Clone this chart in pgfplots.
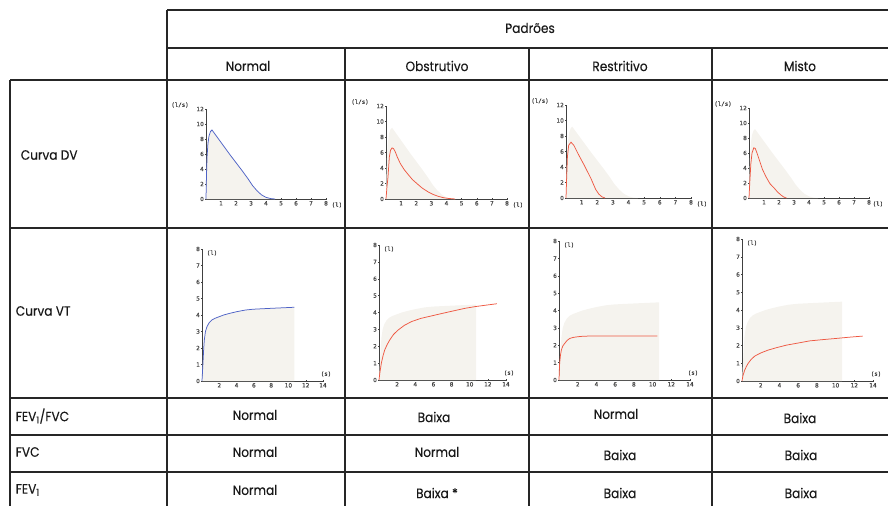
\documentclass[border=0pt]{standalone}
\usepackage{fontspec}
\usepackage{pgfplots}
\usepackage{pgfplotstable}
\pgfplotsset{compat=1.18}
\setmainfont{Poppins}[FakeStretch=0.9, FakeBold=0.25]
\newfontfamily\tickfam{DejaVu Sans}[FakeBold=0.6]
\newfontfamily\lblfam{DejaVu Sans Mono}[FakeBold=0.6]

\definecolor{areabg}{RGB}{245,243,238}
\definecolor{redc}{RGB}{238,88,66}
\definecolor{bluec}{RGB}{78,98,198}

% flow-volume (DV) curves: volume (l), flow (l/s)
\pgfplotstableread{
x y
0 0
0.03 3.0
0.07 5.6
0.13 7.4
0.2 8.4
0.3 9.0
0.4 9.2
0.8 8.1
1.2 7.0
1.6 5.9
2.0 4.85
2.4 3.8
2.8 2.7
3.1 1.8
3.4 1.1
3.7 0.55
4.0 0.22
4.3 0.06
4.6 0
}\dvnormal
\pgfplotstableread{
x y
0 0
0.06 1.5
0.13 2.8
0.22 5.4
0.3 6.3
0.4 6.6
0.5 6.5
0.61 6.1
0.75 5.4
0.94 4.6
1.2 3.8
1.49 3.1
1.75 2.5
2.04 2.0
2.4 1.4
2.8 0.9
3.1 0.6
3.46 0.34
3.8 0.17
4.1 0.08
4.56 0
}\dvobstr
\pgfplotstableread{
x y
0 0
0.04 2.5
0.09 5.3
0.17 6.8
0.32 7.2
0.5 6.8
0.8 5.6
1.2 4.1
1.6 2.5
1.9 1.1
2.1 0.5
2.3 0.15
2.5 0
}\dvrestr
\pgfplotstableread{
x y
0 0
0.05 2.0
0.12 4.5
0.2 6.0
0.32 6.7
0.42 6.6
0.55 5.9
0.7 5.0
0.9 3.8
1.14 2.8
1.4 1.9
1.69 1.3
1.9 0.8
2.13 0.4
2.3 0.15
2.45 0.03
2.5 0
}\dvmisto

% volume-time (VT) curves: time (s), volume (l)
\pgfplotstableread{
x y
0 0
0.05 0.5
0.11 1.07
0.2 2.0
0.27 2.5
0.4 3.0
0.58 3.3
0.85 3.55
1.15 3.7
1.5 3.8
1.9 3.88
2.5 4.0
3.2 4.1
4.0 4.2
5.0 4.3
5.9 4.35
7.0 4.38
8.6 4.42
10.7 4.47
}\vtnormal
\pgfplotstableread{
x y
0 0
0.1 0.45
0.26 1.0
0.45 1.45
0.63 1.78
0.9 2.1
1.18 2.37
1.6 2.7
2.1 2.96
2.8 3.24
3.58 3.46
4.6 3.65
5.8 3.8
7.0 3.95
8.4 4.12
9.5 4.25
10.6 4.35
12.0 4.45
13.0 4.52
}\vtobstr
\pgfplotstableread{
x y
0 0
0.03 0.5
0.07 0.96
0.15 1.4
0.25 1.72
0.4 1.95
0.6 2.1
0.85 2.27
1.14 2.39
1.5 2.45
2.0 2.49
2.6 2.52
3.3 2.53
10.5 2.53
}\vtrestr
\pgfplotstableread{
x y
0 0
0.1 0.3
0.28 0.6
0.45 0.8
0.64 0.98
0.95 1.2
1.35 1.4
2.0 1.58
2.78 1.74
3.7 1.88
4.74 2.02
6.0 2.14
7.23 2.26
8.6 2.33
10.1 2.4
11.5 2.47
12.9 2.53
}\vtmisto

\tikzset{lbl/.style={font=\lblfam\fontsize{5.8}{6}\selectfont, text=black!75}}
\pgfplotsset{
  mini/.style={scale only axis, anchor=south west, clip=false,
    axis lines=left, axis line style={-, black!75, line width=0.6pt},
    tick style={black!75, line width=0.4pt}, major tick length=1.5pt,
    tick label style={font=\tickfam\fontsize{5.8}{6}\selectfont, text=black!72, inner sep=1.2pt},
    /pgf/number format/assume math mode=true},
  dv/.style={mini, xmin=0, xmax=8, ymin=0, ymax=12,
    xtick={1,...,8}, ytick={0,2,...,12}},
  vt/.style={mini, xmin=0, xmax=14, ymin=0, ymax=8,
    xtick={2,4,...,14}, ytick={0,...,8}},
}
\newcommand{\dvlabels}[1][5pt]{%
  \node[lbl, xshift=-26pt, yshift=4pt] at (rel axis cs:0,1) {(l/s)};
  \node[lbl, anchor=west, inner sep=0.5pt, xshift=#1, yshift=-6pt] at (rel axis cs:1,0) {(l)};}
\newcommand{\vtlabels}{%
  \node[lbl, xshift=10pt, yshift=-4pt] at (rel axis cs:0,1) {(l)};
  \node[lbl, xshift=3pt, yshift=7pt] at (rel axis cs:1,0) {(s)};}

\begin{document}
\begin{tikzpicture}
\useasboundingbox (0pt,0pt) rectangle (888pt,-506pt);

% ---- Curva DV row
\begin{scope}
\clip (169pt,-82pt) rectangle (344pt,-227pt);
\begin{axis}[dv, at={(206pt,-199pt)}, width=120pt, height=90pt]
  \addplot[fill=areabg, draw=none] table {\dvnormal} \closedcycle;
  \addplot[bluec, line width=0.75pt] table {\dvnormal};
  \dvlabels
\end{axis}
\end{scope}
\begin{scope}
\clip (347pt,-82pt) rectangle (528pt,-227pt);
\begin{axis}[dv, at={(386pt,-199pt)}, width=121pt, height=93pt]
  \addplot[fill=areabg, draw=none] table {\dvnormal} \closedcycle;
  \addplot[redc, line width=0.75pt] table {\dvobstr};
  \dvlabels
\end{axis}
\end{scope}
\begin{scope}
\clip (531pt,-82pt) rectangle (711pt,-227pt);
\begin{axis}[dv, at={(566pt,-198pt)}, width=125pt, height=93pt]
  \addplot[fill=areabg, draw=none] table {\dvnormal} \closedcycle;
  \addplot[redc, line width=0.75pt] table {\dvrestr};
  \dvlabels
\end{axis}
\end{scope}
\begin{scope}
\clip (714pt,-82pt) rectangle (888pt,-227pt);
\begin{axis}[dv, at={(749pt,-198pt)}, width=120pt, height=90pt]
  \addplot[fill=areabg, draw=none] table {\dvnormal} \closedcycle;
  \addplot[redc, line width=0.75pt] table {\dvmisto};
  \dvlabels[3pt]
\end{axis}
\end{scope}

% ---- Curva VT row
\begin{axis}[vt, at={(202pt,-381pt)}, width=121pt, height=132pt]
  \addplot[fill=areabg, draw=none] table {\vtnormal} \closedcycle;
  \addplot[bluec, line width=0.75pt] table {\vtnormal};
  \vtlabels
\end{axis}
\begin{axis}[vt, at={(379pt,-380pt)}, width=127pt, height=135pt]
  \addplot[fill=areabg, draw=none] table {\vtnormal} \closedcycle;
  \addplot[redc, line width=0.75pt] table {\vtobstr};
  \vtlabels
\end{axis}
\begin{axis}[vt, at={(559pt,-380pt)}, width=131pt, height=139pt]
  \addplot[fill=areabg, draw=none] table {\vtnormal} \closedcycle;
  \addplot[redc, line width=0.75pt] table {\vtrestr};
  \vtlabels
\end{axis}
\begin{axis}[vt, at={(742pt,-381pt)}, width=131pt, height=142pt]
  \addplot[fill=areabg, draw=none] table {\vtnormal} \closedcycle;
  \addplot[redc, line width=0.75pt] table {\vtmisto};
  \vtlabels
\end{axis}

% ---- table grid and text
\begin{scope}[x=1pt, y=-1pt, line width=1.6pt, draw=black!85]
  \draw (167,10) -- (888,10);
  \draw (167,48) -- (888,48);
  \foreach \yy in {80,228,398,435,472} \draw (10,\yy) -- (888,\yy);
  \draw (167,10) -- (167,506);
  \draw (10,80) -- (10,506);
  \foreach \xx in {345,529,712} \draw (\xx,48) -- (\xx,506);

  \begin{scope}[every node/.style={font=\fontsize{13.5}{15}\selectfont, text=black!90, inner sep=0pt}]
  \node at (530,28) {Padrões};
  \node at (248,66) {Normal};
  \node at (437,66) {Obstrutivo};
  \node at (620,66) {Restritivo};
  \node at (800,66) {Misto};

  \node[anchor=west] at (20,155) {Curva DV};
  \node[anchor=west] at (15,311) {Curva VT};
  \node[anchor=west] at (15,416) {FEV\textsubscript{1}/FVC};
  \node[anchor=west] at (15,452) {FVC};
  \node[anchor=west] at (15,490) {FEV\textsubscript{1}};

  \node at (255,415) {Normal};
  \node at (434,417) {Baixa};
  \node at (616,414) {Normal};
  \node at (800,418) {Baixa};
  \node at (255,452) {Normal};
  \node at (437,452) {Normal};
  \node at (620,455) {Baixa};
  \node at (801,455) {Baixa};
  \node at (255,490) {Normal};
  \node at (437,493) {Baixa *};
  \node at (620,493) {Baixa};
  \node at (801,493) {Baixa};
  \end{scope}
\end{scope}
\end{tikzpicture}
\end{document}
